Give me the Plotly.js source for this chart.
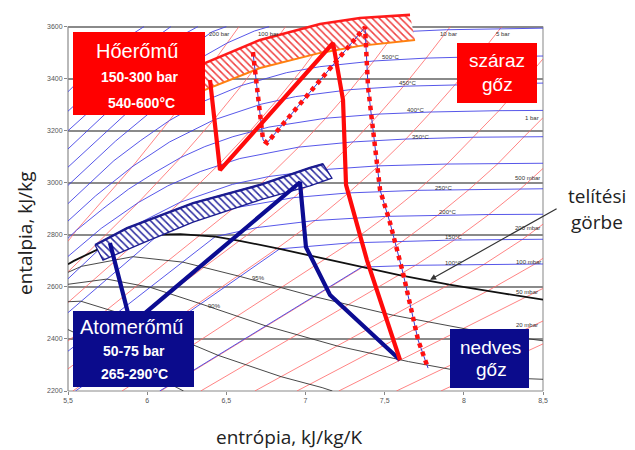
<!DOCTYPE html>
<html><head><meta charset="utf-8">
<script src="https://cdn.plot.ly/plotly-3.0.1.min.js"></script>
<style>body{margin:0;background:#fff}#chart{width:635px;height:450px}</style>
</head><body><div id="chart"></div>
<script>
// ---------- axis ticks ----------
const xTickVals = [5.5, 6, 6.5, 7, 7.5, 8, 8.5];
const xTickText = ['5,5', '6', '6,5', '7', '7,5', '8', '8,5'];
const yTickVals = [2200, 2400, 2600, 2800, 3000, 3200, 3400, 3600];

// ---------- isobars (red), entropy s / enthalpy h ----------
const p200_s = [5.5, 5.554, 5.904, 6.14, 6.335, 6.505, 6.58];
const p200_h = [2775, 2818, 3060, 3239, 3394, 3537, 3600];
const p100_s = [5.5, 5.614, 5.944, 6.212, 6.419, 6.597, 6.756, 6.874];
const p100_h = [2658, 2725, 2924, 3097, 3241, 3374, 3501, 3600];
const p50_s = [5.5, 5.973, 6.208, 6.449, 6.646, 6.819, 6.976, 7.121, 7.18];
const p50_h = [2540, 2794, 2925, 3068, 3196, 3317, 3434, 3550, 3600];
const p20_s = [5.5, 6.339, 6.547, 6.768, 6.957, 7.128, 7.286, 7.432, 7.57, 7.595];
const p20_h = [2392, 2799, 2903, 3024, 3137, 3248, 3358, 3468, 3579, 3600];
const p10_s = [5.5, 6.585, 6.694, 6.926, 7.124, 7.301, 7.465, 7.619, 7.762, 7.915];
const p10_h = [2285, 2777, 2828, 2943, 3051, 3157, 3264, 3371, 3479, 3600];
const p5_s = [5.53, 6.821, 7.061, 7.271, 7.461, 7.634, 7.793, 7.945, 8.088, 8.24];
const p5_h = [2200, 2748, 2855, 2961, 3065, 3168, 3272, 3377, 3484, 3600];
const p2_s = [5.841, 7.127, 7.28, 7.507, 7.709, 7.894, 8.062, 8.222, 8.37, 8.5];
const p2_h = [2200, 2706, 2769, 2871, 2971, 3072, 3175, 3277, 3382, 3476];
const p1_s = [6.085, 7.359, 7.614, 7.834, 8.033, 8.216, 8.379, 8.5];
const p1_h = [2200, 2675, 2776, 2875, 2974, 3074, 3176, 3250];
const p05_s = [6.338, 7.593, 7.695, 7.94, 8.158, 8.357, 8.5];
const p05_h = [2200, 2645, 2683, 2780, 2878, 2976, 3055];
const p02_s = [6.68, 7.908, 8.126, 8.369, 8.5];
const p02_h = [2200, 2609, 2686, 2782, 2841];
const p01_s = [6.946, 8.149, 8.449, 8.5];
const p01_h = [2200, 2584, 2688, 2710];
const p005_s = [7.21, 8.394, 8.5];
const p005_h = [2200, 2561, 2594];
const p002_s = [7.574, 8.5];
const p002_h = [2200, 2469];
const p001_s = [7.855, 8.5];
const p001_h = [2200, 2381];

// ---------- isotherms (blue) ----------
const t100_s = [6.079, 7.355, 7.695, 8.126, 8.5];
const t100_h = [2200, 2676, 2683, 2686, 2688];
const t150_s = [5.547, 6.837, 7.28, 7.614, 7.94, 8.5];
const t150_h = [2200, 2746, 2769, 2776, 2780, 2783];
const t200_s = [5.5, 6.43, 6.694, 7.061, 7.507, 7.834, 8.158, 8.5];
const t200_h = [2353, 2793, 2828, 2855, 2871, 2875, 2878, 2879];
const t250_s = [5.5, 6.073, 6.287, 6.547, 6.926, 7.271, 7.709, 8.033, 8.5];
const t250_h = [2501, 2801, 2856, 2903, 2943, 2961, 2971, 2974, 2977];
const t300_s = [5.5, 5.705, 5.93, 6.208, 6.539, 6.768, 7.124, 7.46, 7.894, 8.216, 8.5];
const t300_h = [2631, 2749, 2839, 2925, 2994, 3024, 3051, 3065, 3072, 3074, 3075];
const t350_s = [5.5, 5.71, 5.944, 6.13, 6.335, 6.584, 6.957, 7.301, 7.634, 8.062, 8.5];
const t350_h = [2717, 2825, 2924, 2988, 3043, 3093, 3137, 3157, 3168, 3175, 3177];
const t400_s = [5.5, 5.554, 5.72, 5.881, 6.05, 6.212, 6.364, 6.541, 6.769, 7.127, 7.465, 7.793, 8.22, 8.5];
const t400_h = [2787, 2818, 2900, 2975, 3040, 3097, 3139, 3177, 3214, 3248, 3264, 3272, 3277, 3278];
const t450_s = [5.5, 5.675, 5.904, 6.142, 6.419, 6.72, 6.937, 7.286, 7.619, 7.945, 8.37, 8.5];
const t450_h = [2853, 2950, 3061, 3157, 3241, 3302, 3331, 3358, 3371, 3377, 3382, 3383];
const t500_s = [5.5, 5.79, 5.96, 6.14, 6.345, 6.597, 6.88, 7.09, 7.432, 7.762, 8.088, 8.5];
const t500_h = [2920, 3085, 3163, 3239, 3310, 3374, 3423, 3446, 3468, 3479, 3484, 3487];
const t550_s = [5.5, 5.8, 6.03, 6.335, 6.52, 6.756, 7.12, 7.56, 7.89, 8.22, 8.5];
const t550_h = [2990, 3160, 3276, 3394, 3448, 3501, 3550, 3579, 3588, 3592, 3594];
const t600_s = [5.5, 5.84, 6.01, 6.233, 6.505, 6.677, 6.77];
const t600_h = [3060, 3250, 3346, 3443, 3537, 3583, 3600];
const t650_s = [5.5, 5.85, 6.2, 6.41, 6.5];
const t650_h = [3130, 3330, 3490, 3580, 3600];
const t700_s = [5.5, 5.9, 6.2, 6.32];
const t700_h = [3200, 3420, 3560, 3600];
const t750_s = [5.5, 5.85, 6.15];
const t750_h = [3275, 3470, 3600];
const t800_s = [5.5, 5.8, 5.98];
const t800_h = [3350, 3530, 3600];

// ---------- saturation curve and quality lines (black) ----------
const sat_s = [5.5, 5.537, 5.705, 5.89, 6.073, 6.21, 6.43, 6.585, 6.837, 7.129, 7.355, 7.593, 7.908, 8.075, 8.257, 8.5];
const sat_h = [2687, 2700, 2749, 2785, 2801, 2803, 2793, 2777, 2746, 2706, 2676, 2645, 2609, 2591, 2574, 2551];
const x95_s = [5.5, 5.585, 5.909, 6.226, 6.587, 7.053, 7.554, 8.052, 8.353, 8.5];
const x95_h = [2656, 2679, 2716, 2695, 2640, 2563, 2491, 2434, 2405, 2393];
const x90_s = [5.5, 5.745, 6.021, 6.338, 6.75, 7.2, 7.65, 8.025, 8.24, 8.5];
const x90_h = [2610, 2630, 2598, 2535, 2450, 2373, 2313, 2271, 2251, 2245];
const x85_s = [5.5, 5.581, 5.816, 6.088, 6.448, 6.846, 7.105, 7.17];
const x85_h = [2543, 2545, 2501, 2429, 2337, 2255, 2213, 2200];
const x80_s = [5.5, 5.611, 5.838, 6.145, 6.23];
const x80_h = [2436, 2404, 2323, 2225, 2200];

// ---------- operating ranges (hatched bands) ----------
const fossilTop_s = [6.3, 6.365, 6.713, 7.092, 7.344, 7.66];
const fossilTop_h = [3435, 3460, 3549, 3610, 3633, 3645];
const fossilBot_s = [6.3, 6.365, 6.713, 7.092, 7.344, 7.692];
const fossilBot_h = [3333, 3357, 3441, 3499, 3526, 3549];
const nuclTop_s = [5.671, 5.873, 6.29, 6.713, 7.028, 7.111];
const nuclTop_h = [2761, 2826, 2922, 2992, 3057, 3072];
const nuclBot_s = [5.721, 5.974, 6.29, 6.713, 7.028, 7.167];
const nuclBot_h = [2703, 2769, 2849, 2934, 2988, 3018];

// ---------- process lines ----------
const fossil_s = [6.397, 6.46, 7.174, 7.237, 7.256, 7.388, 7.597];
const fossil_h = [3395, 3049, 3537, 3318, 2992, 2703, 2319];
const fossil2_s = [6.668, 6.732, 6.757, 7.376, 7.395, 7.427, 7.471, 7.534, 7.616, 7.711, 7.774];
const fossil2_h = [3502, 3164, 3153, 3598, 3368, 3191, 2972, 2846, 2653, 2396, 2288];
const nucl_s = [5.765, 5.898, 6.965, 7.003, 7.155, 7.597];
const nucl_h = [2769, 2454, 3002, 2753, 2569, 2319];

// ---------- small line labels ----------
const tempLabels = ['500°C', '450°C', '400°C', '350°C', '250°C', '200°C', '150°C', '100°C'];
const presLabels = ['200 bar', '100 bar', '10 bar', '5 bar', '1 bar', '500 mbar', '200 mbar', '100 mbar', '50 mbar', '20 mbar'];
const qualLabels = ['95%', '90%'];

// ================== drawing ==================
const L = 68, T = 11, W = 475, H = 380;
const px = v => (v - L) / W;
const py = v => (T + H - v) / H;

const traces = [];
function addLine(s, h, color, width, dash) {
  traces.push({type: 'scatter', mode: 'lines', x: s, y: h, hoverinfo: 'skip', showlegend: false,
    line: {color: color, width: width, dash: dash || 'solid'}});
}
const RED = '#ff6464', BLUE = '#4444e6';
[[p200_s,p200_h],[p100_s,p100_h],[p50_s,p50_h],[p20_s,p20_h],[p10_s,p10_h],[p5_s,p5_h],[p2_s,p2_h],
 [p1_s,p1_h],[p05_s,p05_h],[p02_s,p02_h],[p01_s,p01_h],[p005_s,p005_h],[p002_s,p002_h],[p001_s,p001_h]]
  .forEach(a => addLine(a[0], a[1], RED, 0.8));
[[t100_s,t100_h],[t150_s,t150_h],[t200_s,t200_h],[t250_s,t250_h],[t300_s,t300_h],[t350_s,t350_h],
 [t400_s,t400_h],[t450_s,t450_h],[t500_s,t500_h],[t550_s,t550_h],[t600_s,t600_h],[t650_s,t650_h],
 [t700_s,t700_h],[t750_s,t750_h],[t800_s,t800_h]]
  .forEach(a => addLine(a[0], a[1], BLUE, 0.9));
[[x95_s,x95_h],[x90_s,x90_h],[x85_s,x85_h],[x80_s,x80_h]].forEach(a => addLine(a[0], a[1], '#333', 0.9));
addLine(sat_s, sat_h, '#111', 1.8);

// hatched bands
function band(ts, th, bs, bh, fg) {
  traces.push({type: 'scatter', mode: 'lines', hoverinfo: 'skip', showlegend: false,
    x: ts.concat(bs.slice().reverse()), y: th.concat(bh.slice().reverse()),
    fill: 'toself', fillcolor: 'white', line: {width: 0},
    fillpattern: {shape: '\\', fgcolor: fg, bgcolor: 'white', size: 5, solidity: 0.3}});
}
band(fossilTop_s, fossilTop_h, fossilBot_s, fossilBot_h, '#f04040');
addLine(fossilTop_s, fossilTop_h, '#ff1a1a', 2.6);
addLine(fossilBot_s, fossilBot_h, '#ff8010', 2);
band(nuclTop_s, nuclTop_h, nuclBot_s, nuclBot_h, '#2a2aa0');
addLine(nuclTop_s.concat(nuclBot_s.slice().reverse(), [nuclTop_s[0]]),
        nuclTop_h.concat(nuclBot_h.slice().reverse(), [nuclTop_h[0]]), '#1c1c90', 1.3);
addLine(nuclTop_s, nuclTop_h, '#1c1c90', 2.4);

// processes
addLine(fossil2_s, fossil2_h, '#3a3ad0', 1);
addLine(fossil2_s, fossil2_h, '#ff1010', 4.5, '4.5px,4.5px');
addLine(nucl_s, nucl_h, '#0c0c92', 4.2);
addLine(fossil_s, fossil_h, '#ff0a0a', 4.2);

// ---------- shapes ----------
const top36 = 1400 / 1460;
const shapes = [
  {type: 'line', xref: 'paper', yref: 'paper', x0: 0, x1: 0, y0: 0, y1: top36, line: {color: '#8a8a8a', width: 1.2}, layer: 'below'},
  {type: 'line', xref: 'paper', yref: 'paper', x0: 1, x1: 1, y0: 0, y1: top36, line: {color: '#9a9a9a', width: 1.2}, layer: 'below'},
  {type: 'line', xref: 'paper', yref: 'paper', x0: 0, x1: 1, y0: 0, y1: 0, line: {color: '#8a8a8a', width: 1.2}, layer: 'below'},
];
function box(x0, y0, x1, y1, c) {
  shapes.push({type: 'rect', xref: 'paper', yref: 'paper', x0: px(x0), x1: px(x1), y0: py(y1), y1: py(y0),
    fillcolor: c, line: {width: 0}, layer: 'above'});
}
const BRED = '#ff0000', BNAVY = '#0b0b8c';
box(73, 32, 205, 115, BRED);
box(457, 43, 537, 103, BRED);
box(73, 311, 194, 387, BNAVY);
box(450, 329, 529, 388, BNAVY);

// ---------- annotations ----------
const ann = [];
function txt(t, x, y, size, color, opts) {
  ann.push(Object.assign({text: t, xref: 'paper', yref: 'paper', x: px(x), y: py(y), showarrow: false,
    xanchor: 'center', yanchor: 'middle', font: {size: size, color: color, family: 'Liberation Sans, Arial, sans-serif'}}, opts || {}));
}
txt('Hőerőmű', 137, 51, 20, 'white');
txt('<b>150-300 bar</b>', 140, 77, 14, 'white');
txt('<b>540-600°C</b>', 141, 103, 14, 'white');
txt('száraz', 497, 61, 19, 'white');
txt('gőz', 497, 84, 19, 'white');
txt('Atomerőmű', 131, 327, 20, 'white');
txt('<b>50-75 bar</b>', 134, 351, 14, 'white');
txt('<b>265-290°C</b>', 134, 374, 14, 'white');
txt('nedves', 490, 347, 19, 'white');
txt('gőz', 491, 369, 19, 'white');

const tPos = [[390,57],[407,83],[415,110],[420,137],[443,188],[447,212],[453,237],[453,263]];
tempLabels.forEach((t, i) => txt(t, tPos[i][0], tPos[i][1], 6, '#333'));
const pPos = [[219,34],[268,34],[448,34],[503,34],[532,118],[527,178],[527,228],[528,262],[527,292],[527,325]];
presLabels.forEach((t, i) => txt(t, pPos[i][0], pPos[i][1], 6, '#333'));
const qPos = [[258,278],[214,306]];
qualLabels.forEach((t, i) => txt(t, qPos[i][0], qPos[i][1], 6, '#333'));

const bigFont = 'Open Sans, Noto Sans, sans-serif';
txt('telítési', 597, 196, 19, '#222', {font: {size: 19, color: '#222', family: bigFont}});
txt('görbe', 597, 222, 19, '#222', {font: {size: 19, color: '#222', family: bigFont}});
txt('entrópia, kJ/kg/K', 289, 437, 19, '#222', {font: {size: 19, color: '#222', family: bigFont}});
txt('entalpia, kJ/kg', 25, 233, 19, '#222', {textangle: -90, font: {size: 19, color: '#222', family: bigFont}});

ann.push({x: 7.787, y: 2627, xref: 'x', yref: 'y', text: '', showarrow: true, ax: 128, ay: -72,
  arrowhead: 2, arrowsize: 1, arrowwidth: 1.2, arrowcolor: '#333'});

const layout = {
  width: 635, height: 450, margin: {l: L, r: 92, t: T, b: 59},
  paper_bgcolor: 'white', plot_bgcolor: 'white', showlegend: false,
  xaxis: {range: [5.5, 8.5], tickvals: xTickVals, ticktext: xTickText, ticks: 'outside', ticklen: 3,
    tickcolor: '#888', showgrid: false, zeroline: false, showline: false, fixedrange: true,
    tickfont: {size: 7, color: '#555', family: 'Liberation Sans, Arial'}},
  yaxis: {range: [2200, 3660], tickvals: yTickVals, ticktext: yTickVals.map(String), ticks: 'outside', ticklen: 3,
    tickcolor: '#888', showgrid: true, gridcolor: '#8a8a8a', gridwidth: 1.8, zeroline: false, showline: false,
    fixedrange: true, tickfont: {size: 7, color: '#555', family: 'Liberation Sans, Arial'}},
  shapes: shapes, annotations: ann
};
Plotly.newPlot('chart', traces, layout, {staticPlot: true, displayModeBar: false});
</script></body></html>
